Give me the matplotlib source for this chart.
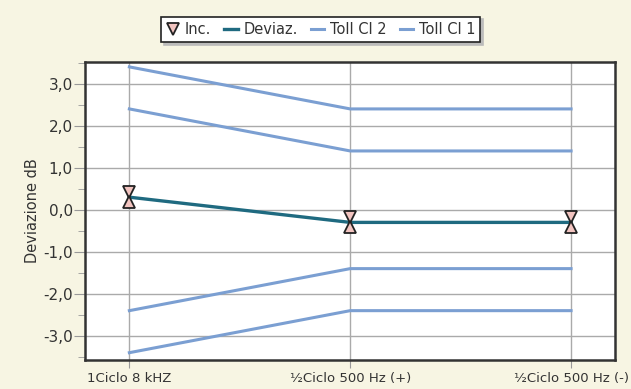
import matplotlib
matplotlib.use('Agg')

import matplotlib.pyplot as plt
from matplotlib.ticker import FuncFormatter, MultipleLocator

categories = ["1Ciclo 8 kHZ", "½Ciclo 500 Hz (+)", "½Ciclo 500 Hz (-)"]
deviaz = [0.3, -0.3, -0.3]
inc = [0.12, 0.12, 0.12]
toll_cl2_up = [2.4, 1.4, 1.4]
toll_cl2_lo = [-2.4, -1.4, -1.4]
toll_cl1_up = [3.4, 2.4, 2.4]
toll_cl1_lo = [-3.4, -2.4, -2.4]

bg = "#f7f5e3"
toll_color = "#7b9fd2"
dev_color = "#1f6a80"

fig = plt.figure(figsize=(6.31, 3.89), dpi=100, facecolor=bg)
ax = fig.add_axes([0.135, 0.075, 0.84, 0.766])
ax.set_facecolor("white")

x = list(range(len(categories)))

ax.plot(x, toll_cl1_up, color=toll_color, lw=2.2, zorder=3, label="Toll Cl 1")
ax.plot(x, toll_cl1_lo, color=toll_color, lw=2.2, zorder=3)
ax.plot(x, toll_cl2_up, color=toll_color, lw=2.2, zorder=3, label="Toll Cl 2")
ax.plot(x, toll_cl2_lo, color=toll_color, lw=2.2, zorder=3)
ax.plot(x, deviaz, color=dev_color, lw=2.4, zorder=4, label="Deviaz.")

# incertezza: due triangoli a clessidra attorno al valore
up = [d + e for d, e in zip(deviaz, inc)]
lo = [d - e for d, e in zip(deviaz, inc)]
ax.plot(x, up, linestyle="none", marker="v", ms=8, mfc="#f2c4c0", mec="#222222",
        mew=1.3, zorder=5, label="Inc.")
ax.plot(x, lo, linestyle="none", marker="^", ms=8, mfc="#f2c4c0", mec="#222222",
        mew=1.3, zorder=5)

ax.set_xlim(-0.2, 2.2)
ax.set_ylim(-3.57, 3.52)
ax.set_xticks(x)
ax.set_xticklabels(categories, fontsize=9.5, color="#333333")
ax.yaxis.set_major_locator(MultipleLocator(1.0))
ax.yaxis.set_minor_locator(MultipleLocator(0.5))
ax.yaxis.set_major_formatter(FuncFormatter(lambda v, p: f"{v:.1f}".replace(".", ",")))
ax.tick_params(axis="y", which="major", length=8, color="#999999", labelsize=11,
               labelcolor="#333333", pad=1)
ax.tick_params(axis="y", which="minor", length=5, color="#999999")
ax.tick_params(axis="x", length=6, color="#999999", pad=3)
ax.grid(True, which="major", color="#aaaaaa", lw=1.0, zorder=1)
for s in ax.spines.values():
    s.set_color("#333333")
    s.set_linewidth(1.8)

ax.set_ylabel("Deviazione dB", fontsize=10.5, color="#333333")
ax.yaxis.set_label_coords(-0.085, 0.5)

h, l = ax.get_legend_handles_labels()
order = [3, 2, 1, 0]
leg = fig.legend([h[i] for i in order], [l[i] for i in order], loc="center",
                 bbox_to_anchor=(0.508, 0.925), ncol=4, fontsize=10.5, frameon=True,
                 fancybox=False, shadow={"color": "#bbbbbb", "alpha": 1.0},
                 handlelength=0.9, handletextpad=0.4, columnspacing=0.9,
                 borderpad=0.35, edgecolor="#222222")
leg.get_frame().set_linewidth(1.2)
for t in leg.get_texts():
    t.set_color("#333333")

fig.savefig("out.png", dpi=100, facecolor=bg)
